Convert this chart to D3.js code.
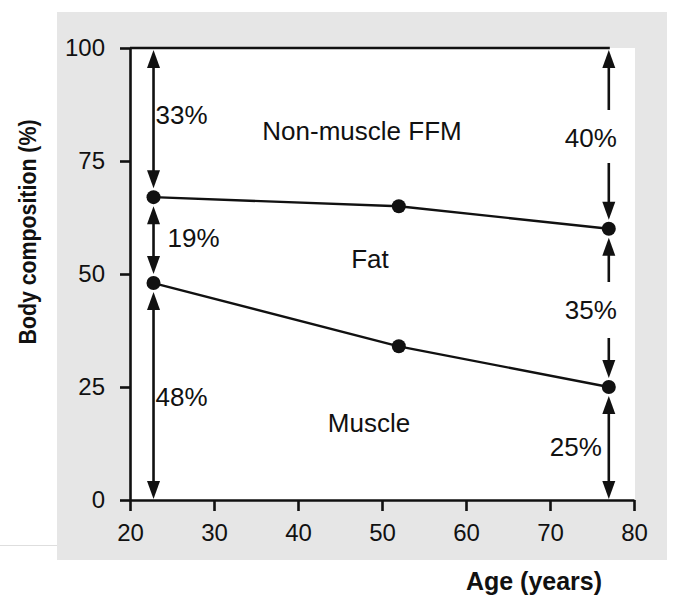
<!DOCTYPE html>
<html>
<head>
<meta charset="utf-8">
<script src="https://cdn.jsdelivr.net/npm/d3@7"></script>
<style>
  html, body { margin: 0; padding: 0; background: #fff; }
  svg { display: block; }
  text { font-family: "Liberation Sans", Arial, Helvetica, sans-serif; fill: #111; }
</style>
</head>
<body>
<svg id="chart" width="683" height="611"></svg>
<script>
// ---- data ----
const ages = [22.8, 52, 77];                 // age (years)
const fatTop = [67, 65, 60];                 // upper boundary: muscle + fat (%)
const muscleTop = [48, 34, 25];              // lower boundary: muscle (%)
const xTicks = [20, 30, 40, 50, 60, 70, 80];
const yTicks = [0, 25, 50, 75, 100];
const leftPct = ["33%", "19%", "48%"];
const rightPct = ["40%", "35%", "25%"];
const regionLabels = ["Non-muscle FFM", "Fat", "Muscle"];
const xTitle = "Age (years)";
const yTitle = "Body composition (%)";

const svg = d3.select("#chart");
const INK = "#111";

// background panel
svg.append("rect").attr("x", 57).attr("y", 12).attr("width", 610).attr("height", 548).attr("fill", "#e6e6e6");
svg.append("line").attr("x1", 0).attr("x2", 57).attr("y1", 545.5).attr("y2", 545.5).attr("stroke", "#dedede").attr("stroke-width", 1);

const x = d3.scaleLinear().domain([20, 80]).range([130, 634]);
const y = d3.scaleLinear().domain([0, 100]).range([500, 48]);

// white plot area
svg.append("rect").attr("x", x(20)).attr("y", y(100)).attr("width", 635 - x(20)).attr("height", y(0) - y(100)).attr("fill", "#fff");

// axes
const yAxis = d3.axisLeft(y).tickValues(yTicks).tickSize(10).tickSizeOuter(0).tickPadding(15);
const xAxis = d3.axisBottom(x).tickValues(xTicks).tickSize(11).tickSizeOuter(0).tickPadding(13);

const gy = svg.append("g").attr("transform", `translate(${x(20)},0)`).call(yAxis);
const gx = svg.append("g").attr("transform", `translate(0,${y(0)})`).call(xAxis);
[gx, gy].forEach(g => {
  g.selectAll("path.domain").attr("stroke", INK).attr("stroke-width", 2.6);
  g.selectAll(".tick line").attr("stroke", INK).attr("stroke-width", 2.6);
  g.selectAll(".tick text").attr("font-size", 24).attr("fill", INK)
    .style("font-family", '"Liberation Sans", Arial, sans-serif');
});
// top border line up to the right arrow
svg.append("line").attr("x1", x(20)).attr("x2", x(ages[2]) + 1).attr("y1", y(100)).attr("y2", y(100))
  .attr("stroke", INK).attr("stroke-width", 2.6);

// data lines
const line = d3.line().x((d, i) => x(ages[i])).y(d => y(d));
[fatTop, muscleTop].forEach(s => {
  svg.append("path").datum(s).attr("d", line).attr("fill", "none").attr("stroke", INK).attr("stroke-width", 2.4);
  svg.selectAll(null).data(s).enter().append("circle")
    .attr("cx", (d, i) => x(ages[i])).attr("cy", d => y(d)).attr("r", 7).attr("fill", INK);
});

// arrow helper: shaft from yA to yB at xp, heads at flagged ends
function arrow(xp, yA, yB, headA, headB) {
  const HL = 18, HW = 6.5;
  const sA = headA ? (yA < yB ? yA + HL - 2 : yA - HL + 2) : yA;
  const sB = headB ? (yB > yA ? yB - HL + 2 : yB + HL - 2) : yB;
  svg.append("line").attr("x1", xp).attr("x2", xp).attr("y1", sA).attr("y2", sB)
    .attr("stroke", INK).attr("stroke-width", 2.6);
  const head = (tipY, dir) => {
    svg.append("path")
      .attr("d", `M${xp},${tipY} L${xp - HW},${tipY + dir * HL} L${xp + HW},${tipY + dir * HL} Z`)
      .attr("fill", INK);
  };
  if (headA) head(yA, yA < yB ? 1 : -1);
  if (headB) head(yB, yB > yA ? -1 : 1);
}

const GAPD = 9; // distance of arrow tip from dot centre
// left side arrows (young)
const xl = x(ages[0]);
arrow(xl, y(100) + 2, y(fatTop[0]) - GAPD, true, true);
arrow(xl, y(fatTop[0]) + GAPD, y(muscleTop[0]) - GAPD, true, true);
arrow(xl, y(muscleTop[0]) + GAPD, y(0) - 1, true, true);

// right side arrows (old) with gaps for labels
const xr = x(ages[2]);
arrow(xr, y(100) + 2, 110, true, false);
arrow(xr, 163, y(fatTop[2]) - GAPD, false, true);
arrow(xr, y(fatTop[2]) + GAPD, 282, true, false);
arrow(xr, 338, y(muscleTop[2]) - GAPD, false, true);
arrow(xr, y(muscleTop[2]) + GAPD, y(0) - 1, true, true);

// percentage labels
const pctFont = 26;
svg.append("text").attr("x", xl + 2).attr("y", 124).attr("font-size", pctFont).text(leftPct[0]);
svg.append("text").attr("x", xl + 14).attr("y", 247).attr("font-size", pctFont).text(leftPct[1]);
svg.append("text").attr("x", xl + 2).attr("y", 406).attr("font-size", pctFont).text(leftPct[2]);
svg.append("text").attr("x", xr - 18).attr("y", 147).attr("font-size", pctFont).attr("text-anchor", "middle").text(rightPct[0]);
svg.append("text").attr("x", xr - 18).attr("y", 319).attr("font-size", pctFont).attr("text-anchor", "middle").text(rightPct[1]);
svg.append("text").attr("x", xr - 7).attr("y", 456).attr("font-size", pctFont).attr("text-anchor", "end").text(rightPct[2]);

// region labels
svg.append("text").attr("x", 362).attr("y", 140).attr("font-size", pctFont).attr("text-anchor", "middle").text(regionLabels[0]);
svg.append("text").attr("x", 370).attr("y", 268).attr("font-size", pctFont).attr("text-anchor", "middle").text(regionLabels[1]);
svg.append("text").attr("x", 369).attr("y", 432).attr("font-size", pctFont).attr("text-anchor", "middle").text(regionLabels[2]);

// axis titles
svg.append("text").attr("x", 534).attr("y", 590).attr("font-size", 25).attr("font-weight", "bold")
  .attr("text-anchor", "middle").text(xTitle);
svg.append("text").attr("transform", "translate(36,232) rotate(-90)").attr("font-size", 23).attr("font-weight", "bold")
  .attr("text-anchor", "middle").attr("textLength", 225).attr("lengthAdjust", "spacingAndGlyphs").text(yTitle);
</script>
</body>
</html>
